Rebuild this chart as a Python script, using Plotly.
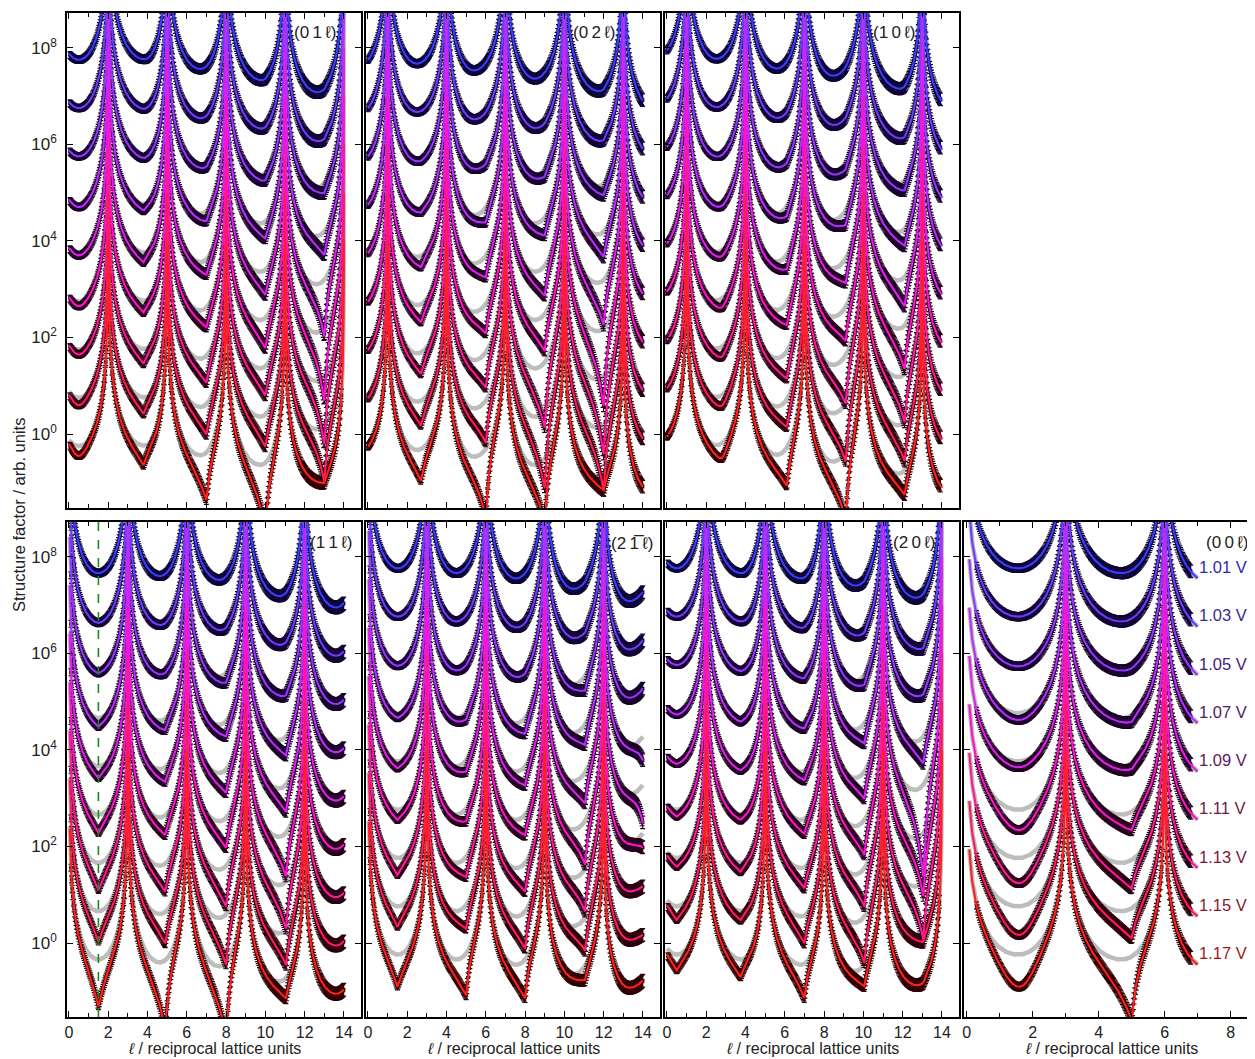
import numpy as np
import plotly.graph_objects as go

FONT = "Liberation Sans, Arial, sans-serif"
OFF = 8                      # default page margin of the html body
W, H = 1255 - OFF, 1059 - OFF

# ---------------- common values ----------------
VOLTAGES = ["1.01 V", "1.03 V", "1.05 V", "1.07 V", "1.09 V", "1.11 V", "1.13 V", "1.15 V", "1.17 V"]
LINE_COLORS = ["#3c3cff", "#6b3cff", "#9436ff", "#bb2cff", "#e01fec", "#ff12cc", "#ff189a", "#ff1a60", "#ff2020"]
DATA_COLORS = ["#0e0636", "#130434", "#18032f", "#1d0229", "#220123", "#26011b", "#2a0113", "#2d000b", "#300004"]
LABEL_COLORS = ["#2c2ca8", "#3a2a94", "#44207e", "#4f1c6a", "#5c1a5c", "#6a1a46", "#7a1a38", "#8a1828", "#9e1a1a"]
GRAY = "#bdbdbd"

PANEL_LABELS = ["(0\u20091\u2009\u2113)", "(0\u20092\u2009\u2113)", "(1\u20090\u2009\u2113)",
                "(1\u20091\u2009\u2113)", "(2\u20091\u0305\u2009\u2113)", "(2\u20090\u2009\u2113)", "(0\u20090\u2009\u2113)"]
Y_TICK_VALS = [1, 1e2, 1e4, 1e6, 1e8]
Y_TICK_TEXT = ["10<sup>0</sup>", "10<sup>2</sup>", "10<sup>4</sup>", "10<sup>6</sup>", "10<sup>8</sup>"]
X_TICKS_14 = [0, 2, 4, 6, 8, 10, 12, 14]
X_TICKS_8 = [0, 2, 4, 6, 8]

# ---------------- (01l) ----------------
PEAKS_01 = [-1, 2, 5, 8, 11, 14, 17]
TPOS_01 = [0.5, 3.85, 6.7, 9.75, 12.6, 15.5]
TLOG_01 = [7.75, 7.76, 7.56, 7.36, 7.10, 6.9]
DIP_POS_01 = [0.5, 3.8, 7.0, 10.0, 13.0]
DIP_WL_01 = [0.5, 0.6, 0.6, 0.6, 0.45]
DIP_WR_01 = [0.5, 0.25, 0.25, 0.25, 0.2]
DIP_POW_01 = [2, 1, 1, 1, 1]
DIP_DEPTH_01 = [[0.00, 0.00, 0.00, 0.05, 0.05],
                [0.00, 0.03, 0.03, 0.05, 0.08],
                [0.00, 0.05, 0.08, 0.15, 0.20],
                [0.05, 0.13, 0.20, 0.35, 0.48],
                [0.05, 0.20, 0.31, 0.52, 1.17],
                [0.10, 0.24, 0.40, 0.62, 1.50],
                [0.10, 0.30, 0.55, 0.60, 1.40],
                [0.15, 0.34, 0.62, 0.66, 1.17],
                [0.20, 0.40, 0.97, 1.30, 0.20]]
LCURVE_01 = [0.0, 14.0]
LDATA_01 = [0.05, 13.9]

# ---------------- (02l) ----------------
PEAKS_02 = [-2, 1, 4, 7, 10, 13, 16]
TPOS_02 = [-0.5, 2.5, 5.4, 8.5, 11.7, 14.5]
TLOG_02 = [7.62, 7.67, 7.53, 7.36, 7.13, 6.78]
DIP_POS_02 = [2.7, 6.0, 9.0, 12.0]
DIP_WL_02 = [0.6, 0.6, 0.6, 0.5]
DIP_WR_02 = [0.3, 0.2, 0.2, 0.2]
DIP_POW_02 = [1, 1, 1, 1]
DIP_DEPTH_02 = [[0.00, 0.00, 0.00, 0.05],
                [0.00, 0.03, 0.05, 0.10],
                [0.03, 0.10, 0.15, 0.24],
                [0.10, 0.30, 0.37, 0.52],
                [0.23, 0.44, 0.62, 0.93],
                [0.37, 0.60, 0.76, 1.60],
                [0.44, 0.72, 1.35, 1.60],
                [0.51, 0.86, 1.60, 1.35],
                [0.65, 1.40, 1.30, 0.35]]
LCURVE_02 = [0.0, 14.0]
LDATA_02 = [0.0, 14.0]

# ---------------- (10l) ----------------
PEAKS_10 = [-2, 1, 4, 7, 10, 13, 16]
TPOS_10 = [-0.5, 2.53, 5.6, 8.45, 11.8, 14.5]
TLOG_10 = [7.82, 7.77, 7.57, 7.43, 7.18, 6.76]
DIP_POS_10 = [2.8, 6.1, 9.1, 12.1]
DIP_WL_10 = [0.6, 0.6, 0.6, 0.5]
DIP_WR_10 = [0.4, 0.25, 0.2, 0.2]
DIP_POW_10 = [1.5, 1, 1, 1]
DIP_DEPTH_10 = [[0.00, 0.00, 0.03, 0.05],
                [0.00, 0.05, 0.08, 0.10],
                [0.03, 0.10, 0.15, 0.20],
                [0.08, 0.20, 0.30, 0.35],
                [0.12, 0.30, 0.50, 0.60],
                [0.18, 0.45, 0.70, 0.90],
                [0.20, 0.56, 1.00, 1.00],
                [0.22, 0.56, 1.20, 0.81],
                [0.30, 0.77, 1.40, 0.50]]
LCURVE_10 = [0.0, 14.0]
LDATA_10 = [0.0, 13.95]

# ---------------- (11l) ----------------
PEAKS_11 = [0, 3, 6, 9, 12, 15]
TPOS_11 = [1.5, 4.63, 7.65, 10.7, 13.6]
TLOG_11 = [7.66, 7.60, 7.52, 7.20, 6.95]
DIP_POS_11 = [1.5, 4.9, 8.0, 11.05]
DIP_WL_11 = [0.5, 0.6, 0.6, 0.5]
DIP_WR_11 = [0.5, 0.25, 0.22, 0.2]
DIP_POW_11 = [1, 1, 1, 1]
DIP_DEPTH_11 = [[0.00, 0.00, 0.00, 0.03],
                [0.03, 0.02, 0.07, 0.05],
                [0.07, 0.05, 0.20, 0.15],
                [0.18, 0.23, 0.31, 0.39],
                [0.24, 0.30, 0.48, 0.56],
                [0.38, 0.40, 0.62, 0.90],
                [0.56, 0.57, 0.83, 0.98],
                [0.63, 0.64, 1.04, 0.73],
                [0.97, 1.40, 1.50, 0.42]]
LCURVE_11 = [0.04, 14.0]
LDATA_11 = [0.1, 14.0]

# ---------------- (2-1l) ----------------
PEAKS_21 = [0, 3, 6, 9, 12, 15]
TPOS_21 = [1.53, 4.5, 7.55, 10.44, 13.3]
TLOG_21 = [7.76, 7.66, 7.55, 7.35, 7.08]
DIP_POS_21 = [1.5, 5.0, 8.0, 11.05, 14.0]
DIP_WL_21 = [0.5, 0.6, 0.6, 0.5, 0.3]
DIP_WR_21 = [0.5, 0.2, 0.2, 0.2, 0.1]
DIP_POW_21 = [1, 1, 1, 1, 1]
DIP_DEPTH_21 = [[0.00, 0.00, 0.00, 0.05, 0.00],
                [0.00, 0.00, 0.03, 0.10, 0.00],
                [0.02, 0.03, 0.08, 0.30, 0.00],
                [0.10, 0.15, 0.32, 0.42, 0.50],
                [0.14, 0.23, 0.39, 0.63, 0.80],
                [0.21, 0.26, 0.42, 0.90, 0.30],
                [0.35, 0.41, 0.59, 0.87, 0.10],
                [0.42, 0.48, 0.77, 0.68, 0.10],
                [0.66, 0.86, 0.80, 0.29, 0.05]]
LCURVE_21 = [0.04, 14.0]
LDATA_21 = [0.1, 14.0]

# ---------------- (20l) ----------------
PEAKS_20 = [-1, 2, 5, 8, 11, 14, 17]
TPOS_20 = [0.5, 3.8, 6.85, 9.57, 12.63, 15.5]
TLOG_20 = [7.76, 7.66, 7.55, 7.42, 7.17, 6.9]
DIP_POS_20 = [0.5, 3.75, 7.0, 10.05, 13.05]
DIP_WL_20 = [0.5, 0.6, 0.6, 0.5, 0.45]
DIP_WR_20 = [0.5, 0.25, 0.2, 0.2, 0.2]
DIP_POW_20 = [1, 1, 1, 1, 1]
DIP_DEPTH_20 = [[0.00, 0.00, 0.00, 0.05, 0.05],
                [0.00, 0.00, 0.03, 0.12, 0.17],
                [0.00, 0.03, 0.08, 0.20, 0.13],
                [0.03, 0.08, 0.12, 0.41, 0.55],
                [0.05, 0.08, 0.19, 0.55, 1.90],
                [0.14, 0.11, 0.30, 0.72, 1.30],
                [0.18, 0.18, 0.43, 0.79, 1.20],
                [0.28, 0.18, 0.57, 0.96, 0.25],
                [0.32, 0.36, 0.70, 0.44, 0.10]]
LCURVE_20 = [0.0, 14.0]
LDATA_20 = [0.05, 13.9]

# ---------------- (00l) ----------------
PEAKS_00 = [0, 3, 6, 9]
TPOS_00 = [1.56, 4.7, 7.5]
TLOG_00 = [7.76, 7.66, 7.43]
DIP_POS_00 = [1.6, 5.0]
DIP_WL_00 = [0.75, 0.6]
DIP_WR_00 = [0.65, 0.2]
DIP_POW_00 = [2, 1]
DIP_DEPTH_00 = [[0.00, 0.00],
                [0.00, 0.00],
                [0.03, 0.03],
                [0.14, 0.14],
                [0.12, 0.12],
                [0.42, 0.38],
                [0.52, 0.59],
                [0.59, 0.62],
                [0.66, 1.30]]
LCURVE_00 = [0.08, 7.0]
LDATA_00 = [0.3, 6.8]

PANELS = [
    (PEAKS_01, TPOS_01, TLOG_01, DIP_POS_01, DIP_WL_01, DIP_WR_01, DIP_POW_01, DIP_DEPTH_01, LCURVE_01, LDATA_01),
    (PEAKS_02, TPOS_02, TLOG_02, DIP_POS_02, DIP_WL_02, DIP_WR_02, DIP_POW_02, DIP_DEPTH_02, LCURVE_02, LDATA_02),
    (PEAKS_10, TPOS_10, TLOG_10, DIP_POS_10, DIP_WL_10, DIP_WR_10, DIP_POW_10, DIP_DEPTH_10, LCURVE_10, LDATA_10),
    (PEAKS_11, TPOS_11, TLOG_11, DIP_POS_11, DIP_WL_11, DIP_WR_11, DIP_POW_11, DIP_DEPTH_11, LCURVE_11, LDATA_11),
    (PEAKS_21, TPOS_21, TLOG_21, DIP_POS_21, DIP_WL_21, DIP_WR_21, DIP_POW_21, DIP_DEPTH_21, LCURVE_21, LDATA_21),
    (PEAKS_20, TPOS_20, TLOG_20, DIP_POS_20, DIP_WL_20, DIP_WR_20, DIP_POW_20, DIP_DEPTH_20, LCURVE_20, LDATA_20),
    (PEAKS_00, TPOS_00, TLOG_00, DIP_POS_00, DIP_WL_00, DIP_WR_00, DIP_POW_00, DIP_DEPTH_00, LCURVE_00, LDATA_00),
]

# ---------------- layout geometry (window pixels) ----------------
COL_PX = [(67, 361), (366, 660), (665, 959), (964, 1255)]
ROW_PX = [(13, 508), (522, 1017)]
X_RANGE_14 = [-0.1, 14.87]
X_RANGE_8 = [-0.08, 8.74]
Y_RANGE = [-1.53, 8.72]
LABEL_POS = [(339, 33), (618, 33), (918, 33), (355, 542), (656, 543), (938, 542), (1251, 542)]


def px_x(x):
    return (x - OFF) / W


def px_y(y):
    return 1 - (y - OFF) / H


def rod_log(l, peaks, tpos, tlog):
    out = np.full_like(l, np.nan)
    for j in range(len(peaks) - 1):
        a, b, m, t = peaks[j], peaks[j + 1], tpos[j], tlog[j]
        sel = (l >= a) & (l <= b)
        x = l[sel]
        u = np.where(x < m, 0.5 * (x - a) / (m - a), 0.5 + 0.5 * (x - m) / (b - m))
        s = np.sin(np.pi * u) ** 2
        out[sel] = t - np.log10(np.clip(s, 1e-9, None))
    return np.minimum(out, 12)


def dip_log(l, pos, wl, wr, pw, depth):
    tot = np.zeros_like(l)
    for d, a, b, k, D in zip(pos, wl, wr, pw, depth):
        w = np.where(l < d, a, b)
        tot += D * np.exp(-(np.abs(l - d) / w) ** k)
    return tot


fig = go.Figure()
layout = dict()

for p, (peaks, tpos, tlog, dpos, dwl, dwr, dpw, ddep, lcur, ldat) in enumerate(PANELS):
    row = 0 if p < 3 else 1
    col = p if p < 3 else p - 3
    sfx = "" if p == 0 else str(p + 1)
    xref, yref = "x" + sfx, "y" + sfx

    lc = np.arange(lcur[0], lcur[1] + 1e-9, 0.01)
    ld = np.arange(ldat[0], ldat[1] + 1e-9, 0.032 if p != 6 else 0.022)
    near = np.min(np.abs(ld[:, None] - np.array(peaks)[None, :]), axis=1)
    ld = ld[near > 0.05]

    base_c = rod_log(lc, peaks, tpos, tlog)
    base_d = rod_log(ld, peaks, tpos, tlog)

    gray_tr, data_tr, col_tr = [], [], []
    for i in range(9):
        g = base_c - i
        c = g - dip_log(lc, dpos, dwl, dwr, dpw, ddep[i])
        dd = base_d - i - dip_log(ld, dpos, dwl, dwr, dpw, ddep[i])
        gray_tr.append(go.Scatter(x=lc, y=10 ** g, mode="lines", line=dict(color=GRAY, width=4.5),
                                  xaxis=xref, yaxis=yref, hoverinfo="skip", showlegend=False))
        yd = 10 ** dd
        e = 0.07 + 0.06 * ld / max(ldat[1], 1)
        data_tr.append(go.Scatter(x=ld, y=yd, mode="markers",
                                  marker=dict(size=3.5, color=DATA_COLORS[i], symbol="square"),
                                  error_y=dict(type="data", symmetric=False, array=yd * (10 ** e - 1),
                                               arrayminus=yd * (1 - 10 ** (-e)), color=DATA_COLORS[i],
                                               thickness=1.2, width=2.5),
                                  xaxis=xref, yaxis=yref, hoverinfo="skip", showlegend=False))
        col_tr.append(go.Scatter(x=lc, y=10 ** c, mode="lines", line=dict(color=LINE_COLORS[i], width=2.1),
                                 xaxis=xref, yaxis=yref, name=VOLTAGES[i], showlegend=False))
    for t in gray_tr + data_tr + col_tr:
        fig.add_trace(t)

    x0, x1 = COL_PX[col]
    y0, y1 = ROW_PX[row]
    is14 = p != 6
    layout["xaxis" + sfx] = dict(
        domain=[px_x(x0), min(px_x(x1), 1.0)], range=X_RANGE_14 if is14 else X_RANGE_8, anchor=yref,
        showline=True, linecolor="black", linewidth=1.6, mirror="allticks",
        ticks="inside", ticklen=6, tickwidth=1.2, tickcolor="black",
        tickvals=X_TICKS_14 if is14 else X_TICKS_8, showticklabels=(row == 1),
        tickfont=dict(family=FONT, size=16, color="#222"), ticklabelstandoff=0,
        minor=dict(dtick=1, ticks="inside", ticklen=4, tickwidth=1, tickcolor="black"),
        showgrid=False, zeroline=False, automargin=False)
    layout["yaxis" + sfx] = dict(
        domain=[px_y(y1), px_y(y0)], type="log", range=Y_RANGE, anchor=xref,
        showline=True, linecolor="black", linewidth=1.6, mirror="allticks",
        ticks="inside", ticklen=6, tickwidth=1.2, tickcolor="black",
        tickvals=Y_TICK_VALS, ticktext=Y_TICK_TEXT, showticklabels=(col == 0),
        tickfont=dict(family=FONT, size=17, color="#222"), ticklabelstandoff=5,
        showgrid=False, zeroline=False, automargin=False)

annotations = []
for p, (px, py) in enumerate(LABEL_POS):
    annotations.append(dict(text=PANEL_LABELS[p], xref="paper", yref="paper", x=px_x(px), y=px_y(py),
                            xanchor="right", yanchor="middle", showarrow=False,
                            font=dict(family=FONT, size=17, color="#222")))
for i, v in enumerate(VOLTAGES):
    annotations.append(dict(text=v, xref="x7", yref="y7", x=6.98, y=7.79 - i, xanchor="left",
                            yanchor="middle", showarrow=False,
                            font=dict(family=FONT, size=16.5, color=LABEL_COLORS[i])))
for cx in (214, 513, 812, 1111):
    annotations.append(dict(text="<i>\u2113</i> / reciprocal lattice units", xref="paper", yref="paper",
                            x=px_x(cx), y=px_y(1059), xanchor="center", yanchor="bottom", showarrow=False,
                            font=dict(family=FONT, size=16, color="#222")))
annotations.append(dict(text="Structure factor / arb. units", xref="paper", yref="paper",
                        x=px_x(19), y=px_y(515), xanchor="center", yanchor="middle", textangle=-90,
                        showarrow=False, font=dict(family=FONT, size=16.5, color="#222")))

shapes = [dict(type="line", xref="x4", yref="y4 domain", x0=1.5, x1=1.5, y0=0, y1=1,
               line=dict(color="#1a8a1a", width=1.6, dash="dash"))]

fig.update_layout(width=W, height=H, margin=dict(l=0, r=0, t=0, b=0), template="none",
                  plot_bgcolor="white", paper_bgcolor="white", showlegend=False,
                  annotations=annotations, shapes=shapes, **layout)
fig.write_html("out.html")
